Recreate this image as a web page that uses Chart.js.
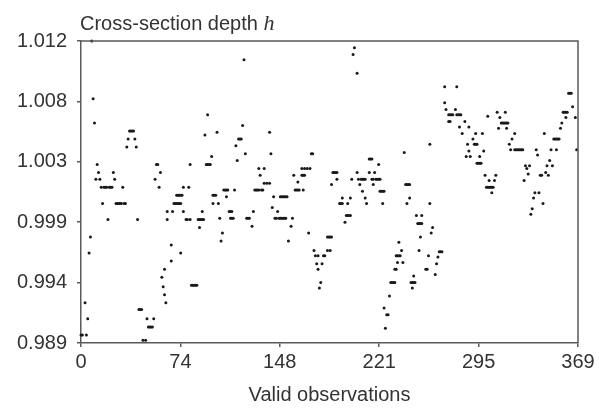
<!DOCTYPE html>
<html>
<head>
<meta charset="utf-8">
<script src="https://cdn.jsdelivr.net/npm/chart.js@4.4.0/dist/chart.umd.min.js"></script>
<style>
  html, body { margin: 0; padding: 0; background: #fff; }
</style>
</head>
<body>
<canvas id="depthChart" width="599" height="408"></canvas>
<script>
// Observaciones válidas (índice) y profundidad de sección h
const obsX = [
  0,1,3,4,5,6,7,8,9,10,
  11,12,13,14,15,16,17,18,19,20,
  21,22,23,24,25,26,27,28,29,30,
  31,32,33,34,35,36,37,38,39,40,
  41,42,43,44,45,46,48,49,50,51,
  52,53,54,55,56,57,58,59,60,61,
  62,62,63,64,64,67,67,68,69,70,
  71,72,73,74,71,72,73,74,75,74,
  76,76,78,79,80,81,81,82,83,84,
  85,86,87,88,89,90,91,88,90,92,
  93,94,95,96,94,97,98,99,100,98,
  101,102,103,104,105,106,107,108,109,108,
  110,111,112,111,112,113,114,115,116,117,
  118,119,120,121,122,123,124,125,127,128,
  129,130,131,132,132,133,134,135,136,136,
  138,140,140,141,142,143,148,149,150,151,
  152,153,146,144,145,147,148,149,150,151,
  152,154,156,157,158,161,159,160,161,162,
  164,166,164,165,166,165,168,170,171,172,
  169,173,174,175,176,176,177,178,179,180,
  181,183,184,185,186,183,185,186,187,188,
  189,190,190,192,193,194,194,196,197,198,
  199,200,198,200,201,202,203,205,205,207,
  206,208,209,210,211,209,211,212,214,215,
  216,214,218,216,217,219,220,221,222,217,
  221,222,223,224,225,224,225,226,227,228,
  229,230,231,232,233,233,234,235,234,235,
  236,237,236,238,239,240,241,242,243,244,
  242,244,245,246,247,248,246,247,249,253,
  250,251,252,253,251,252,256,257,258,259,
  259,260,261,263,264,265,266,267,268,270,
  270,271,273,274,275,276,273,274,278,279,
  279,280,281,282,281,283,285,286,287,288,
  288,289,291,292,293,294,293,294,295,296,
  297,296,298,299,300,301,302,303,304,305,
  306,303,305,302,307,308,309,310,311,312,
  313,314,315,316,317,315,316,318,319,320,
  322,322,323,324,325,326,327,328,329,330,
  331,332,333,334,335,336,337,338,339,340,
  341,342,343,344,345,346,347,348,349,350,
  351,352,353,354,355,353,356,357,358,359,
  360,361,360,362,363,364,365,367,368
];
const depthH = [
  0.9901,0.9901,0.9925,0.9901,0.9913,0.9962,0.9974,1.0120,1.0077,1.0059,
  1.0017,1.0028,1.0022,1.0017,1.0011,0.9999,1.0011,1.0011,1.0011,0.9987,
  1.0011,1.0011,1.0011,1.0022,1.0017,0.9999,0.9999,0.9999,0.9999,0.9999,
  1.0011,0.9999,0.9999,1.0041,1.0047,1.0053,1.0053,1.0053,1.0053,1.0047,
  1.0041,0.9987,0.9920,0.9920,0.9920,0.9897,0.9897,0.9913,0.9907,0.9907,
  0.9907,0.9907,0.9913,1.0017,1.0028,1.0028,1.0011,1.0022,0.9944,0.9937,
  0.9950,0.9931,0.9925,0.9987,0.9993,0.9956,0.9968,0.9993,0.9999,0.9999,
  0.9999,0.9999,0.9999,0.9999,1.0005,1.0005,1.0005,1.0005,1.0005,0.9962,
  0.9993,1.0011,0.9987,0.9987,1.0011,0.9987,1.0028,0.9938,0.9938,0.9938,
  0.9938,0.9938,0.9987,0.9987,0.9987,0.9987,0.9987,0.9981,0.9993,1.0050,
  1.0028,1.0028,1.0028,1.0028,1.0065,1.0034,1.0005,1.0005,1.0005,0.9999,
  1.0052,0.9999,0.9988,0.9971,0.9977,1.0009,1.0009,1.0009,1.0009,1.0004,
  0.9993,0.9993,0.9993,0.9988,0.9988,0.9988,1.0009,1.0042,1.0031,1.0047,
  1.0047,1.0047,1.0057,1.0106,1.0036,0.9988,0.9988,0.9988,0.9982,0.9993,
  1.0009,1.0009,1.0009,1.0009,1.0025,1.0020,1.0009,1.0009,1.0025,1.0014,
  1.0014,1.0014,1.0052,1.0036,0.9996,1.0004,1.0004,1.0004,1.0004,1.0004,
  1.0004,1.0004,0.9993,0.9988,0.9988,0.9988,0.9988,0.9988,0.9988,0.9988,
  0.9988,0.9971,0.9982,0.9988,1.0020,1.0015,1.0009,1.0009,1.0009,1.0009,
  1.0025,1.0025,1.0020,1.0020,1.0020,1.0009,1.0025,1.0025,1.0036,1.0036,
  0.9977,0.9964,0.9960,0.9954,0.9960,0.9950,0.9936,0.9940,0.9954,0.9960,
  0.9960,0.9974,0.9974,0.9974,0.9974,0.9964,0.9964,1.0013,1.0022,1.0022,
  1.0022,1.0022,1.0017,0.9999,0.9999,0.9999,1.0003,0.9985,0.9990,0.9990,
  0.9990,0.9990,0.9999,1.0003,1.0017,1.0110,1.0115,1.0096,1.0022,1.0013,
  1.0017,1.0017,1.0017,1.0017,1.0017,1.0008,1.0003,0.9999,1.0032,1.0032,
  1.0032,1.0022,1.0022,1.0017,1.0017,1.0017,1.0017,1.0017,1.0017,1.0013,
  1.0028,1.0008,1.0008,1.0008,1.0008,0.9999,0.9921,0.9906,0.9916,0.9916,
  0.9930,0.9940,0.9940,0.9940,0.9940,0.9950,0.9950,0.9955,0.9960,0.9960,
  0.9960,0.9960,0.9970,0.9964,0.9955,1.0037,1.0013,1.0013,1.0013,1.0013,
  0.9999,1.0003,0.9940,0.9940,0.9940,0.9940,0.9936,0.9945,0.9990,0.9990,
  0.9984,0.9984,0.9984,0.9984,0.9964,0.9974,0.9950,0.9950,0.9960,0.9999,
  1.0043,0.9977,0.9981,0.9946,0.9954,0.9959,0.9963,0.9963,0.9963,1.0086,
  1.0074,1.0069,1.0065,1.0065,1.0065,1.0065,1.0060,1.0060,1.0069,1.0086,
  1.0065,1.0065,1.0065,1.0065,1.0056,1.0051,1.0060,1.0034,1.0043,1.0038,
  1.0056,1.0034,1.0047,1.0043,1.0043,1.0043,1.0051,1.0029,1.0029,1.0029,
  1.0029,1.0034,1.0051,1.0038,1.0020,1.0011,1.0011,1.0011,1.0011,1.0011,
  1.0011,1.0016,1.0007,1.0064,1.0016,1.0020,1.0067,1.0055,1.0063,1.0059,
  1.0059,1.0059,1.0059,1.0059,1.0059,1.0067,1.0055,1.0043,1.0039,1.0047,
  1.0051,1.0039,1.0039,1.0039,1.0039,1.0039,1.0039,1.0039,1.0016,1.0027,
  1.0025,1.0021,1.0027,0.9991,0.9995,1.0003,1.0007,1.0039,1.0035,1.0007,
  1.0020,1.0020,0.9999,1.0051,1.0022,1.0027,1.0020,1.0031,1.0039,1.0027,
  1.0047,1.0047,1.0047,1.0047,1.0047,1.0039,1.0055,1.0059,1.0067,1.0067,
  1.0067,1.0067,1.0063,1.0081,1.0081,1.0081,1.0071,1.0063,1.0039
];

// Marcas de los ejes
const xTickVals = [0, 73.8, 147.6, 221.4, 295.2, 369];
const xTickLabels = ['0', '74', '148', '221', '295', '369'];
const yTickVals = [0.9895, 0.994, 0.9985, 1.003, 1.0075, 1.012];
const yTickLabels = ['0.989', '0.994', '0.999', '1.003', '1.008', '1.012'];

const axisColor = '#5a5a5a';
const textColor = '#333333';
const fontFamily = '"Liberation Sans", Arial, sans-serif';

// Marco superior/derecho y título del eje y
const framePlugin = {
    id: 'frame',
    afterDraw(chart) {
        const { ctx, chartArea: a } = chart;
        ctx.save();
        ctx.strokeStyle = axisColor;
        ctx.lineWidth = 1.5;
        ctx.beginPath();
        ctx.moveTo(a.left, a.top);
        ctx.lineTo(a.right, a.top);
        ctx.lineTo(a.right, a.bottom);
        ctx.stroke();

        ctx.fillStyle = textColor;
        ctx.textBaseline = 'alphabetic';
        ctx.font = '20px ' + fontFamily;
        const main = 'Cross-section depth ';
        ctx.fillText(main, a.left - 1, 30);
        const w = ctx.measureText(main).width;
        ctx.font = 'italic 22px "Liberation Serif", serif';
        ctx.fillText('h', a.left - 1 + w, 30);
        ctx.restore();
    }
};

const points = obsX.map((x, i) => ({ x: x, y: depthH[i] }));

new Chart(document.getElementById('depthChart'), {
    type: 'scatter',
    data: {
        datasets: [{
            data: points,
            backgroundColor: '#1a1a1a',
            pointRadius: 1.5,
            pointBorderWidth: 0,
            pointHoverRadius: 1.5,
            clip: false
        }]
    },
    options: {
        responsive: false,
        animation: false,
        layout: { padding: { top: 41, right: 21, left: 0, bottom: 0 } },
        plugins: {
            legend: { display: false },
            tooltip: { enabled: false }
        },
        scales: {
            x: {
                type: 'linear',
                min: 0,
                max: 369,
                afterBuildTicks: (scale) => { scale.ticks = xTickVals.map(v => ({ value: v })); },
                afterFit: (scale) => { scale.height = 65; },
                ticks: {
                    autoSkip: false,
                    maxRotation: 0,
                    padding: 3,
                    color: textColor,
                    font: { family: fontFamily, size: 20 },
                    callback: (v, i) => xTickLabels[i]
                },
                grid: { drawOnChartArea: false, drawTicks: true, tickLength: 4, tickColor: axisColor, lineWidth: 1.5 },
                border: { display: true, color: axisColor, width: 1.5 },
                title: {
                    display: true,
                    text: 'Valid observations',
                    color: textColor,
                    font: { family: fontFamily, size: 20 },
                    padding: { top: 0, bottom: 1 }
                }
            },
            y: {
                type: 'linear',
                min: 0.9895,
                max: 1.012,
                afterBuildTicks: (scale) => { scale.ticks = yTickVals.map(v => ({ value: v })); },
                afterFit: (scale) => { scale.width = 81; },
                ticks: {
                    padding: 10,
                    color: textColor,
                    font: { family: fontFamily, size: 20 },
                    callback: (v, i) => yTickLabels[i]
                },
                grid: { drawOnChartArea: false, drawTicks: true, tickLength: 4, tickColor: axisColor, lineWidth: 1.5 },
                border: { display: true, color: axisColor, width: 1.5 }
            }
        }
    },
    plugins: [framePlugin]
});
</script>
</body>
</html>
